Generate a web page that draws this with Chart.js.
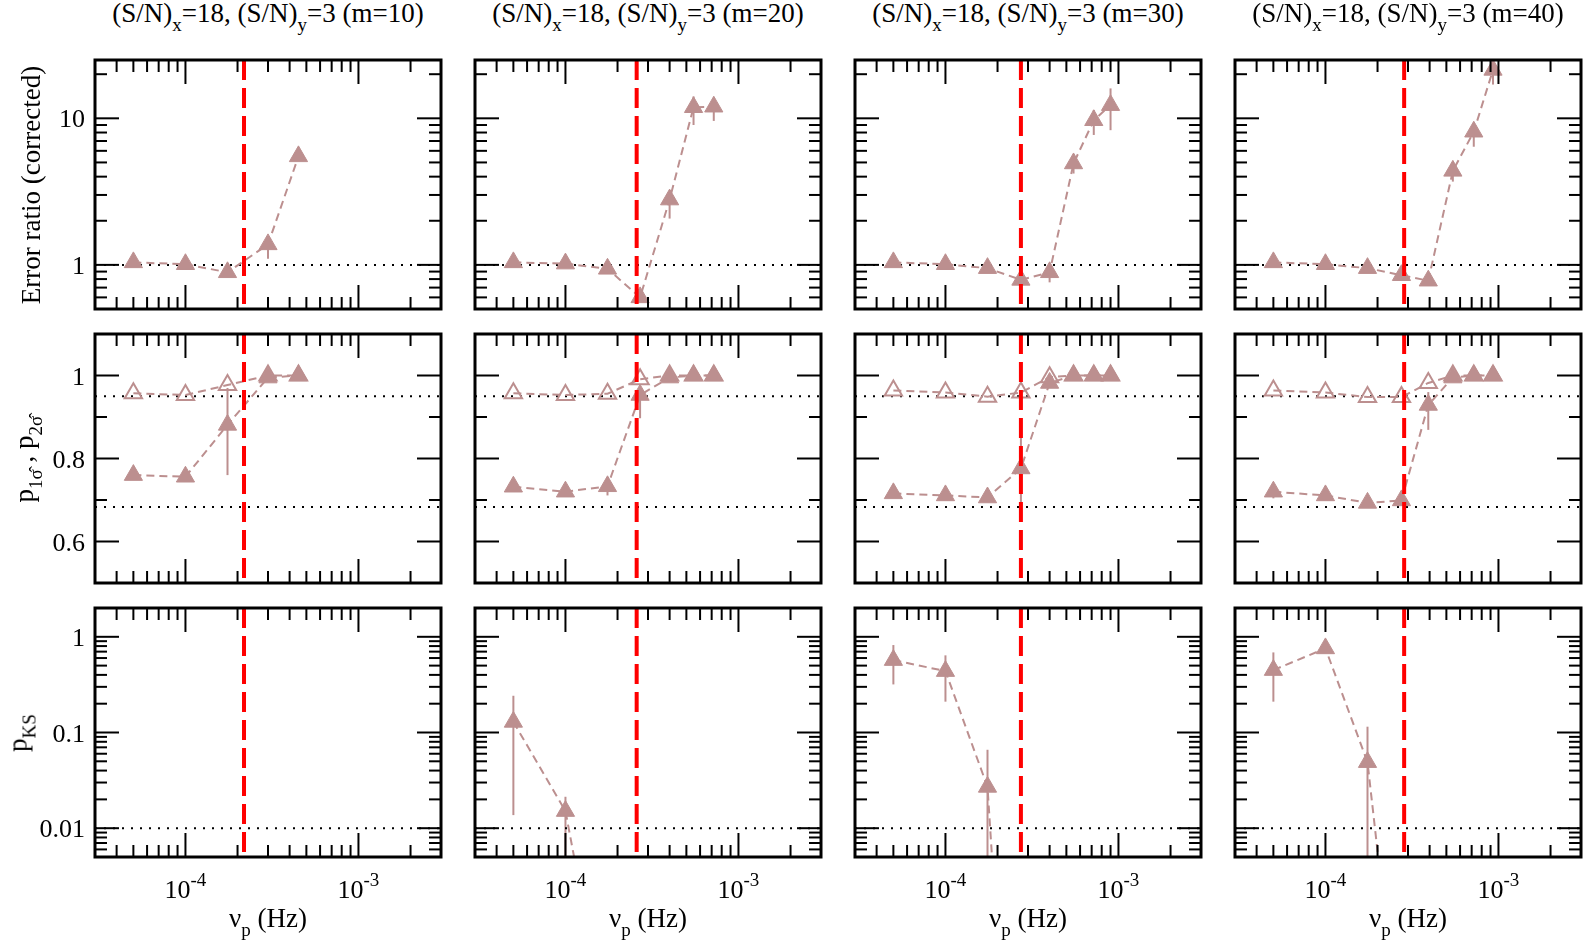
<!DOCTYPE html>
<html>
<head>
<meta charset="utf-8">
<script src="https://cdn.jsdelivr.net/npm/chart.js@4.4.0/dist/chart.umd.min.js"></script>
<style>
body { margin: 0; background: #fff; width: 1584px; height: 948px; position: relative; overflow: hidden;
       font-family: "Liberation Serif", "Times New Roman", serif; color: #000; }
canvas { position: absolute; }
.t { position: absolute; font-size: 27px; line-height: 26px; white-space: nowrap; text-align: center; }
.sb { font-size: 19px; position: relative; top: 9px; }
.yl { position: absolute; font-size: 27px; line-height: 26px; white-space: nowrap;
      transform: translate(-50%, -50%) rotate(-90deg); }
</style>
</head>
<body>
<script>
// one column per m, rows: error ratio / coverage / KS p-value
const mValues = [10, 20, 30, 40];
const snX = 18, snY = 3;

const nu = [
  [5e-5, 1e-4, 1.75e-4, 3.0e-4, 4.5e-4],
  [5e-5, 1e-4, 1.75e-4, 2.7e-4, 4.0e-4, 5.5e-4, 7.2e-4],
  [5e-5, 1e-4, 1.75e-4, 2.73e-4, 4.0e-4, 5.5e-4, 7.2e-4, 9.0e-4],
  [5e-5, 1e-4, 1.75e-4, 2.75e-4, 3.93e-4, 5.45e-4, 7.2e-4, 9.3e-4]
];
const nuCrit = [2.18e-4, 2.58e-4, 2.73e-4, 2.85e-4];

const errRatio = [
  [1.04, 1.01, 0.89, 1.38, 5.5],
  [1.04, 1.02, 0.94, 0.6, 2.79, 11.9, 12.0],
  [1.04, 1.01, 0.95, 0.79, 0.89, 4.92, 9.7, 12.3],
  [1.04, 1.01, 0.95, 0.85, 0.78, 4.38, 8.1, 21.4]
];
const errRatioLo = [
  [null, null, null, 1.1, null],
  [null, null, null, 0.57, 2.07, 9.0, 9.6],
  [null, null, null, null, 0.76, 4.2, 7.7, 8.3],
  [null, null, null, null, null, 3.7, 6.4, 17]
];
const errRatioHi = [
  [null, null, null, 1.5, 6.0],
  [null, null, null, null, 3.1, 14.1, 13],
  [null, null, null, null, 0.92, 5.3, 11.4, 16],
  [null, null, null, null, null, 4.7, 9.2, 25]
];

const p1sig = [
  [0.76, 0.756, 0.881, 0.995, 1.0],
  [0.732, 0.72, 0.733, 0.953, 0.995, 1.0, 1.0],
  [0.716, 0.711, 0.706, 0.776, 0.982, 1.0, 1.0, 1.0],
  [0.72, 0.711, 0.693, 0.699, 0.929, 0.995, 1.0, 1.0]
];
const p1sigLo = [
  [null, null, 0.76, null, null],
  [null, null, 0.711, 0.897, null, null, null],
  [null, null, null, 0.69, null, null, null, null],
  [0.704, null, null, null, 0.869, null, null, null]
];
const p1sigHi = [
  [null, null, 0.97, null, null],
  [null, null, null, null, null, null, null],
  [null, null, null, 0.86, null, null, null, null],
  [null, null, null, null, 0.96, null, null, null]
];
const p2sig = [
  [0.957, 0.953, 0.977, 1.0, 1.0],
  [0.957, 0.953, 0.956, 0.991, 1.0, 1.0, 1.0],
  [0.964, 0.959, 0.949, 0.959, 0.996, 1.0, 1.0, 1.0],
  [0.964, 0.959, 0.948, 0.948, 0.982, 1.0, 1.0, 1.0]
];

const pKS = [
  [],
  [0.129, 0.0151, 7e-5],
  [0.571, 0.438, 0.027, 1e-7],
  [0.449, 0.756, 0.049, 3.5e-5]
];
const pKSLo = [
  [],
  [0.0137, 0.001, null],
  [0.318, 0.21, 0.001, null],
  [0.21, null, 0.001, null]
];
const pKSHi = [
  [],
  [0.242, 0.0213, null],
  [0.82, 0.64, 0.066, null],
  [0.687, null, 0.115, null]
];

const refLines = [[1], [0.95, 0.683], [0.01]];
const xRange = [3e-5, 3e-3];
const yRanges = [[0.5, 25], [0.5, 1.1], [0.005, 2]];
const yTickLabels = [[1, 10], [0.6, 0.8, 1], [0.01, 0.1, 1]];
const xTickLabels = [1e-4, 1e-3];

const COLOR = '#bc8f8f';
const geom = { left: 95, step: 380, width: 346, tops: [60, 334, 608], height: 249 };
const pad = { left: 95, top: 12, right: 12, bottom: 80 };

function logTicks(min, max) {
  const out = [];
  for (let e = Math.floor(Math.log10(min)); e <= Math.ceil(Math.log10(max)); e++) {
    for (let k = 1; k <= 9; k++) {
      const v = k * Math.pow(10, e);
      if (v >= min * 0.999 && v <= max * 1.001) out.push({ v, major: k === 1 });
    }
  }
  return out;
}
function linTicks(min, max) {
  const out = [];
  for (let i = Math.round(min * 10); i <= Math.round(max * 10); i++) {
    out.push({ v: i / 10, major: i % 2 === 0 });
  }
  return out;
}

const panelPlugin = {
  id: 'panel',
  beforeDatasetsDraw(chart) {
    const { ctx, chartArea: a, scales: { x, y } } = chart;
    ctx.save();
    ctx.beginPath();
    ctx.rect(a.left, a.top, a.right - a.left, a.bottom - a.top);
    ctx.clip();
    ctx.strokeStyle = COLOR;
    ctx.lineWidth = 2;
    chart.data.datasets.forEach(ds => {
      if (!ds.errLo) return;
      ds.data.forEach((p, i) => {
        const lo = ds.errLo[i] ?? p.y, hi = ds.errHi[i] ?? p.y;
        if (lo === hi) return;
        const px = x.getPixelForValue(p.x);
        ctx.beginPath();
        ctx.moveTo(px, y.getPixelForValue(lo));
        ctx.lineTo(px, y.getPixelForValue(hi));
        ctx.stroke();
      });
    });
    ctx.restore();
  },
  afterDraw(chart, args, o) {
    const { ctx, chartArea: a, scales: { x, y } } = chart;
    const seg = (x1, y1, x2, y2) => { ctx.beginPath(); ctx.moveTo(x1, y1); ctx.lineTo(x2, y2); ctx.stroke(); };
    ctx.save();
    ctx.strokeStyle = '#000';
    ctx.lineWidth = 2;
    logTicks(xRange[0], xRange[1]).forEach(t => {
      const px = x.getPixelForValue(t.v);
      if (px <= a.left + 1 || px >= a.right - 1) return;
      const L = t.major ? 24 : 12;
      seg(px, a.top, px, a.top + L);
      seg(px, a.bottom, px, a.bottom - L);
    });
    const yr = yRanges[o.row];
    (o.row === 1 ? linTicks(yr[0], yr[1]) : logTicks(yr[0], yr[1])).forEach(t => {
      const py = y.getPixelForValue(t.v);
      if (py <= a.top + 1 || py >= a.bottom - 1) return;
      const L = t.major ? 24 : 12;
      seg(a.left, py, a.left + L, py);
      seg(a.right, py, a.right - L, py);
    });
    ctx.lineWidth = 3;
    ctx.strokeRect(a.left, a.top, a.right - a.left, a.bottom - a.top);

    ctx.fillStyle = '#000';
    if (o.col === 0) {
      ctx.font = '26px "Liberation Serif"';
      ctx.textAlign = 'right';
      ctx.textBaseline = 'alphabetic';
      yTickLabels[o.row].forEach(v => {
        ctx.fillText(String(v), a.left - 10, y.getPixelForValue(v) + 9);
      });
    }
    if (o.row === 2) {
      ctx.textAlign = 'left';
      ctx.textBaseline = 'alphabetic';
      xTickLabels.forEach(v => {
        const exp = String(Math.round(Math.log10(v)));
        ctx.font = '26px "Liberation Serif"';
        const w1 = ctx.measureText('10').width;
        ctx.font = '19px "Liberation Serif"';
        const w2 = ctx.measureText(exp).width;
        const x0 = x.getPixelForValue(v) - (w1 + w2) / 2;
        ctx.font = '26px "Liberation Serif"';
        ctx.fillText('10', x0, a.bottom + 41);
        ctx.font = '19px "Liberation Serif"';
        ctx.fillText(exp, x0 + w1, a.bottom + 29);
      });
    }
    ctx.restore();
  }
};

function seriesData(xs, ys) {
  return ys.map((v, i) => ({ x: xs[i], y: v }));
}

const rowSeries = [
  c => [{ y: errRatio[c], lo: errRatioLo[c], hi: errRatioHi[c], filled: true }],
  c => [{ y: p1sig[c], lo: p1sigLo[c], hi: p1sigHi[c], filled: true },
        { y: p2sig[c], lo: null, hi: null, filled: false }],
  c => [{ y: pKS[c], lo: pKSLo[c], hi: pKSHi[c], filled: true }]
];

for (let r = 0; r < 3; r++) {
  for (let c = 0; c < 4; c++) {
    const bx = geom.left + c * geom.step, by = geom.tops[r];
    const cv = document.createElement('canvas');
    cv.width = pad.left + geom.width + pad.right;
    cv.height = pad.top + geom.height + pad.bottom;
    cv.style.left = (bx - pad.left) + 'px';
    cv.style.top = (by - pad.top) + 'px';
    document.body.appendChild(cv);

    const yr = yRanges[r];
    const datasets = [{
      data: [{ x: nuCrit[c], y: yr[1] }, { x: nuCrit[c], y: yr[0] }],
      borderColor: '#ff0000', borderWidth: 4, borderDash: [20, 8],
      pointRadius: 0, order: 0
    }];
    rowSeries[r](c).forEach((s, k) => {
      const ds = {
        data: seriesData(nu[c], s.y),
        borderColor: COLOR, borderWidth: 2, borderDash: [8, 5],
        pointStyle: 'triangle',
        pointRadius: s.filled ? 10.5 : 10,
        pointBackgroundColor: s.filled ? COLOR : 'rgba(0,0,0,0)',
        pointBorderColor: COLOR,
        pointBorderWidth: s.filled ? 1 : 2,
        clip: 0, order: 1 + k
      };
      if (s.lo) { ds.errLo = s.lo; ds.errHi = s.hi; }
      datasets.push(ds);
    });
    refLines[r].forEach(v => datasets.push({
      data: [{ x: xRange[0], y: v }, { x: xRange[1], y: v }],
      borderColor: '#000', borderWidth: 2, borderDash: [2, 7],
      pointRadius: 0, order: 5
    }));

    new Chart(cv, {
      type: 'line',
      data: { datasets },
      options: {
        responsive: false, animation: false, devicePixelRatio: 1, events: [],
        layout: { padding: pad },
        plugins: { legend: { display: false }, tooltip: { enabled: false }, panel: { row: r, col: c } },
        scales: {
          x: { type: 'logarithmic', min: xRange[0], max: xRange[1], display: false },
          y: { type: r === 1 ? 'linear' : 'logarithmic', min: yr[0], max: yr[1], display: false }
        }
      },
      plugins: [panelPlugin]
    });
  }
}

function addText(cls, left, top, width, html, extra) {
  const d = document.createElement('div');
  d.className = cls;
  d.style.left = left + 'px';
  d.style.top = top + 'px';
  if (width) d.style.width = width + 'px';
  if (extra) Object.assign(d.style, extra);
  d.innerHTML = html;
  document.body.appendChild(d);
}

mValues.forEach((m, c) => {
  const bx = geom.left + c * geom.step;
  addText('t', bx - 60, 0, geom.width + 120,
    `(S/N)<span class="sb">x</span>=${snX}, (S/N)<span class="sb">y</span>=${snY} (m=${m})`);
  addText('t', bx - 60, 905, geom.width + 120, 'ν<span class="sb">p</span> (Hz)');
});

const yTitles = [
  'Error ratio (corrected)',
  'p<span class="sb">1σ̂</span> , p<span class="sb">2σ̂</span>',
  'p<span class="sb">KS</span>'
];
const yTitleX = [31, 25, 19];
yTitles.forEach((t, r) => {
  addText('yl', yTitleX[r], geom.tops[r] + geom.height / 2, 0, t);
});
</script>
</body>
</html>
